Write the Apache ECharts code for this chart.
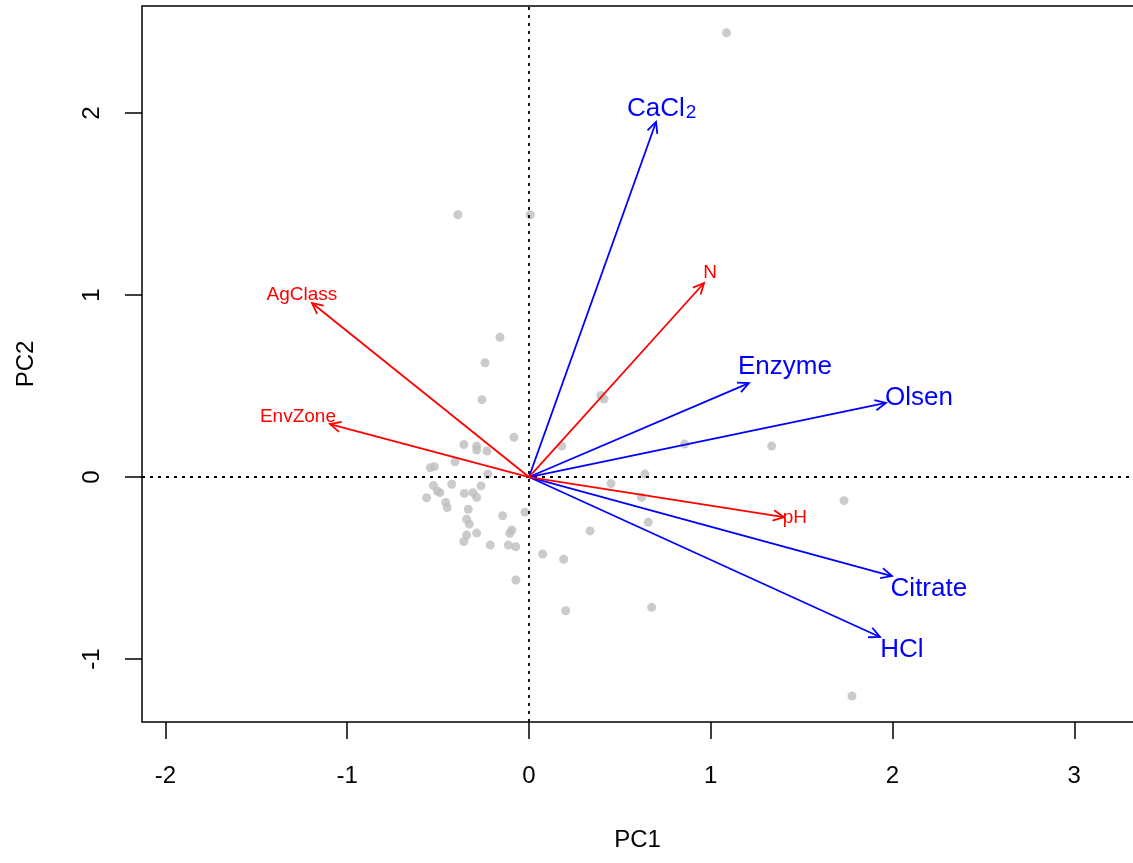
<!DOCTYPE html>
<html>
<head>
<meta charset="utf-8">
<script src="https://cdn.jsdelivr.net/npm/echarts@6/dist/echarts.min.js"></script>
<style>
  html, body { margin: 0; padding: 0; background: #fff; overflow: hidden; }
  #chart { width: 1141px; height: 863px; }
</style>
</head>
<body>
<div id="chart"></div>
<script>
// site scores (grey points)
const scorePC1 = [1.087, -0.391, 0.007, -0.160, -0.242, -0.259, 0.396, 0.413, -0.083, -0.358,
  -0.288, -0.288, -0.231, 0.180, 0.856, 1.335, -0.407, -0.543, -0.521, -0.227,
  0.638, -0.526, -0.425, -0.264, 0.451, -0.504, -0.490, -0.356, -0.308, -0.288,
  -0.563, 0.619, 1.733, -0.458, -0.450, -0.334, -0.145, -0.022, 0.656, -0.343,
  -0.328, 0.336, -0.106, -0.094, -0.343, -0.288, -0.358, -0.213, -0.114, -0.073,
  0.075, 0.191, -0.072, 0.202, 0.675, 1.777];
const scorePC2 = [2.441, 1.441, 1.441, 0.768, 0.628, 0.425, 0.448, 0.429, 0.218, 0.179,
  0.170, 0.148, 0.143, 0.170, 0.181, 0.170, 0.084, 0.051, 0.057, 0.015,
  0.016, -0.047, -0.040, -0.049, -0.036, -0.077, -0.086, -0.090, -0.086, -0.112,
  -0.114, -0.112, -0.130, -0.140, -0.168, -0.177, -0.213, -0.193, -0.249, -0.232,
  -0.259, -0.296, -0.309, -0.291, -0.319, -0.308, -0.354, -0.374, -0.374, -0.383,
  -0.423, -0.452, -0.566, -0.735, -0.716, -1.203];

// P extraction variables (blue arrows)
const blueNames = ["CaCl2", "Enzyme", "Olsen", "Citrate", "HCl"];
const bluePC1 = [0.699, 1.210, 1.964, 1.997, 1.931];
const bluePC2 = [1.951, 0.516, 0.407, -0.544, -0.879];
const blueLabelPC1 = [0.730, 1.408, 2.145, 2.200, 2.052];
const blueLabelPC2 = [2.062, 0.604, 0.434, -0.615, -0.951];

// site variables (red arrows)
const redNames = ["N", "pH", "AgClass", "EnvZone"];
const redPC1 = [0.963, 1.403, -1.194, -1.095];
const redPC2 = [1.066, -0.220, 0.956, 0.291];
const redLabelPC1 = [0.996, 1.463, -1.249, -1.271];
const redLabelPC2 = [1.121, -0.225, 1.000, 0.330];

const tickValues = [-2, -1, 0, 1, 2, 3];
const tickValuesY = [-1, 0, 1, 2];

const FONT = "'Liberation Sans', Arial, sans-serif";

function arrowSeries(names, xs, ys, lxs, lys, color, fontSize) {
  const data = names.map((n, i) => [xs[i], ys[i], lxs[i], lys[i]]);
  return {
    type: "custom",
    coordinateSystem: "cartesian2d",
    data: data,
    z: 5,
    silent: true,
    renderItem: function (params, api) {
      const org = api.coord([0, 0]);
      const tip = api.coord([api.value(0), api.value(1)]);
      const lab = api.coord([api.value(2), api.value(3)]);
      const ang = Math.atan2(tip[1] - org[1], tip[0] - org[0]);
      const hl = 12, ha = Math.PI / 7;
      const p1 = [tip[0] - hl * Math.cos(ang - ha), tip[1] - hl * Math.sin(ang - ha)];
      const p2 = [tip[0] - hl * Math.cos(ang + ha), tip[1] - hl * Math.sin(ang + ha)];
      const name = names[params.dataIndex];
      let textStyle;
      if (name === "CaCl2") {
        textStyle = {
          text: "{m|CaCl}{s|2}",
          rich: {
            m: { fontSize: fontSize, fontFamily: FONT, fill: color, verticalAlign: "bottom" },
            s: { fontSize: 19, fontFamily: FONT, fill: color, verticalAlign: "bottom", padding: [22, 0, 0, 1] }
          },
          align: "center",
          verticalAlign: "middle"
        };
      } else {
        textStyle = {
          text: name,
          fontSize: fontSize,
          fontFamily: FONT,
          fill: color,
          align: "center",
          verticalAlign: "middle"
        };
      }
      return {
        type: "group",
        children: [
          { type: "line", shape: { x1: org[0], y1: org[1], x2: tip[0], y2: tip[1] },
            style: { stroke: color, lineWidth: 1.8 } },
          { type: "polyline", shape: { points: [p1, tip, p2] },
            style: { stroke: color, lineWidth: 1.8, fill: null } },
          { type: "text", x: lab[0], y: lab[1], style: textStyle }
        ]
      };
    }
  };
}

const chart = echarts.init(document.getElementById("chart"));
chart.setOption({
  animation: false,
  backgroundColor: "#fff",
  grid: {
    left: 142, right: 0, top: 6, bottom: 141,
    show: true, borderColor: "#000", borderWidth: 1.5, backgroundColor: "transparent"
  },
  xAxis: {
    type: "value",
    min: -2.129, max: 3.367,
    name: "PC1",
    nameLocation: "middle",
    nameGap: 106,
    nameTextStyle: { fontSize: 24, fontFamily: FONT, color: "#000", padding: [0, 8, 0, 0] },
    splitLine: { show: false },
    axisLine: { show: false, onZero: false },
    axisTick: { show: true, inside: false, length: 17, customValues: tickValues,
      lineStyle: { color: "#000", width: 1.5 } },
    axisLabel: { customValues: tickValues, fontSize: 24, fontFamily: FONT, color: "#000", margin: 42 }
  },
  yAxis: {
    type: "value",
    min: -1.346, max: 2.588,
    name: "PC2",
    nameLocation: "middle",
    nameGap: 104,
    nameTextStyle: { fontSize: 24, fontFamily: FONT, color: "#000" },
    splitLine: { show: false },
    axisLine: { show: false, onZero: false },
    axisTick: { show: true, inside: false, length: 17, customValues: tickValuesY,
      lineStyle: { color: "#000", width: 1.5 } },
    axisLabel: { customValues: tickValuesY, rotate: 90, fontSize: 24, fontFamily: FONT, color: "#000", margin: 38 }
  },
  series: [
    {
      type: "scatter",
      data: scorePC1.map((x, i) => [x, scorePC2[i]]),
      symbolSize: 9,
      itemStyle: { color: "#BEBEBE" },
      z: 2,
      silent: true,
      markLine: {
        silent: true,
        symbol: "none",
        label: { show: false },
        lineStyle: { color: "#000", width: 1.8, type: [3, 5] },
        data: [{ xAxis: 0 }, { yAxis: 0 }]
      }
    },
    arrowSeries(blueNames, bluePC1, bluePC2, blueLabelPC1, blueLabelPC2, "#0000FF", 26),
    arrowSeries(redNames, redPC1, redPC2, redLabelPC1, redLabelPC2, "#FF0000", 19)
  ]
});
</script>
</body>
</html>
